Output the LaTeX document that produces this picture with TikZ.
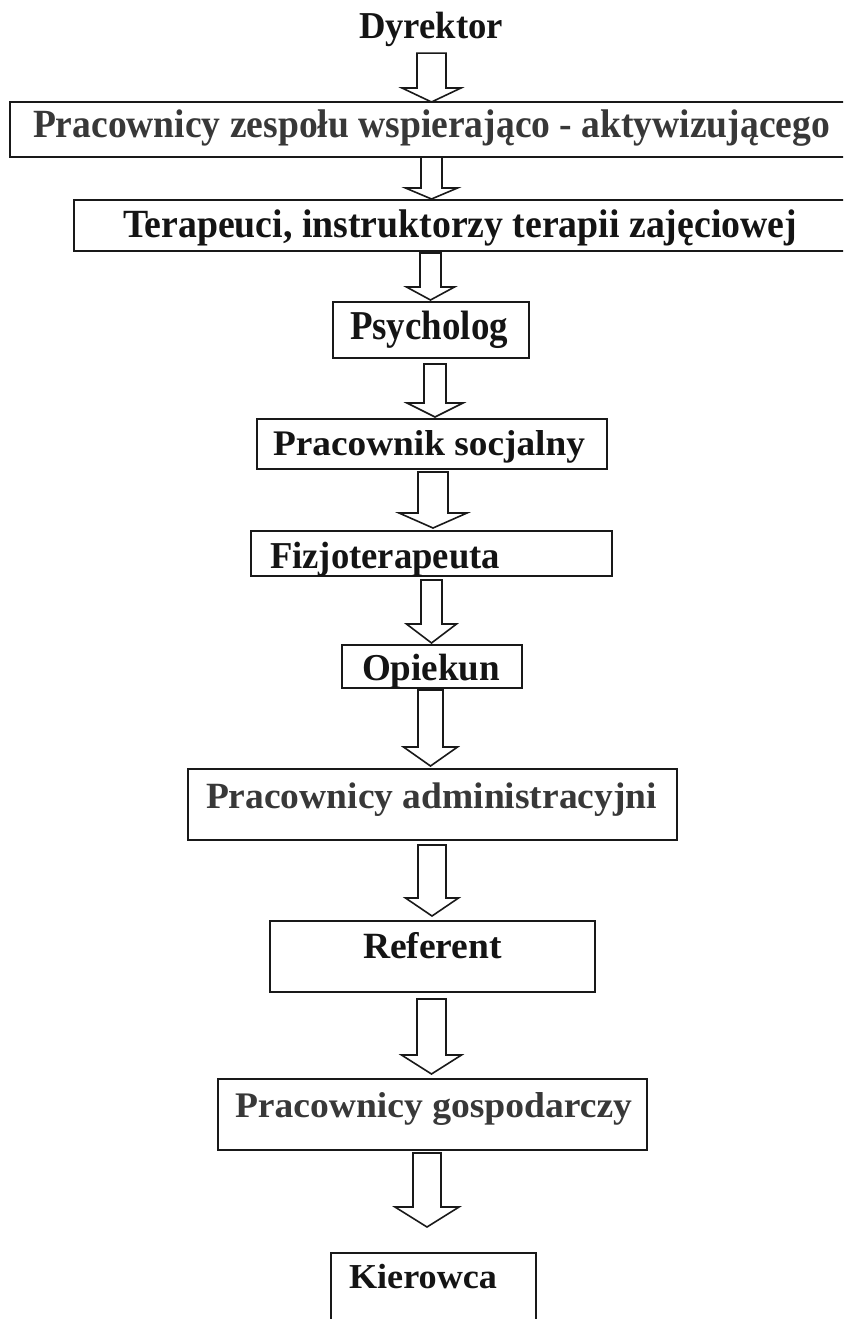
\documentclass[tikz,border=0pt]{standalone}
\usepackage{fontspec}
\setmainfont{Liberation Serif}
\usetikzlibrary{calc}
\newsavebox\fitbox
% #1 target width (px), #2 font size (px), #3 text
\newcommand{\fitto}[3]{%
  \sbox\fitbox{\fontsize{#2pt}{#2pt}\selectfont\bfseries #3}%
  \pgfmathsetmacro\fitsx{#1/\wd\fitbox}%
  \scalebox{\fitsx}[1]{\usebox\fitbox}}
% block arrow: #1 from node, #2 to node, #3 centre coordinate, #4 shaft half width,
% #5 head half width, #6 head length, #7 gap below source, #8 gap above target
\newcommand{\blockarr}[8]{%
  \draw[blockarrow]
    ($(#1.south -| #3)+(-#4,#7)$) -- ($(#2.north -| #3)+(-#4,-#8-#6)$)
    -- ($(#2.north -| #3)+(-#5,-#8-#6)$) -- ($(#2.north -| #3)+(0,-#8)$)
    -- ($(#2.north -| #3)+(#5,-#8-#6)$) -- ($(#2.north -| #3)+(#4,-#8-#6)$)
    -- ($(#1.south -| #3)+(#4,#7)$) -- cycle;}
\begin{document}
\begin{tikzpicture}[x=1pt,y=-1pt,
  box/.style={draw=black!90, line width=1.6pt, rectangle, inner sep=0pt, outer sep=0pt},
  lbl/.style={anchor=base west, inner sep=0pt, outer sep=0pt, text=black!92},
  glbl/.style={lbl, text=black!78},
  blockarrow/.style={draw=black!90, line width=1.6pt, fill=white, line join=miter}]
\useasboundingbox (0,0) rectangle (843,1319);
\fill[white] (0,0) rectangle (843,1319);
\clip (0,0) rectangle (843,1319);

% boxes (centre at midpoint of pixel bounds)
\node[box, minimum width=850pt, minimum height=55pt] (b1) at (435,129.5) {};
\node[box, minimum width=786pt, minimum height=51pt] (b2) at (467,225.5) {};
\node[box, minimum width=196pt, minimum height=56pt] (b3) at (431,330) {};
\node[box, minimum width=350pt, minimum height=50pt] (b4) at (432,444) {};
\node[box, minimum width=361pt, minimum height=45pt] (b5) at (431.5,553.5) {};
\node[box, minimum width=180pt, minimum height=43pt] (b6) at (432,666.5) {};
\node[box, minimum width=489pt, minimum height=71pt] (b7) at (432.5,804.5) {};
\node[box, minimum width=325pt, minimum height=71pt] (b8) at (432.5,956.5) {};
\node[box, minimum width=429pt, minimum height=71pt] (b9) at (432.5,1114.5) {};
\node[box, minimum width=205pt, minimum height=90pt] (b10) at (433.5,1298) {};

% texts
\node[lbl] (d) at (359,39) {\fitto{144}{38}{Dyrektor}};
\node[glbl] (t1) at (33,138) {\fitto{797}{40}{Pracownicy zespołu wspierająco - aktywizującego}};
\node[lbl] (t2) at (123,237) {\fitto{674}{40}{Terapeuci, instruktorzy terapii zajęciowej}};
\node[lbl] (t3) at (350,339) {\fitto{158}{41}{Psycholog}};
\node[lbl] (t4) at (273,455) {\fitto{312}{36}{Pracownik socjalny}};
\node[lbl] (t5) at (270,568) {\fitto{230}{38}{Fizjoterapeuta}};
\node[lbl] (t6) at (362,680) {\fitto{138}{38}{Opiekun}};
\node[glbl] (t7) at (206,808) {\fitto{451}{37}{Pracownicy administracyjni}};
\node[lbl] (t8) at (363,958) {\fitto{139}{37}{Referent}};
\node[glbl] (t9) at (235,1117) {\fitto{397}{36}{Pracownicy gospodarczy}};
\node[lbl] (t10) at (349,1288) {\fitto{148}{35}{Kierowca}};

% arrow centre lines
\coordinate (c1) at (431.5,0);
\coordinate (c2) at (431.5,0);
\coordinate (c3) at (430.5,0);
\coordinate (c4) at (435,0);
\coordinate (c5) at (433,0);
\coordinate (c6) at (431.5,0);
\coordinate (c7) at (430.5,0);
\coordinate (c8) at (432,0);
\coordinate (c9) at (431.5,0);
\coordinate (c10) at (427,0);

\blockarr{d}{b1}{c1}{14.5}{29.5}{14}{6}{0}
\blockarr{b1}{b2}{c2}{10.5}{26}{11}{0}{1}
\blockarr{b2}{b3}{c3}{10.5}{24}{13}{2}{2}
\blockarr{b3}{b4}{c4}{11}{28}{14}{6}{2}
\blockarr{b4}{b5}{c5}{15}{34}{15}{3}{3}
\blockarr{b5}{b6}{c6}{10.5}{25}{19}{4}{2}
\blockarr{b6}{b7}{c7}{12.5}{27}{19}{2}{3}
\blockarr{b7}{b8}{c8}{14}{26.5}{18}{5}{5}
\blockarr{b8}{b9}{c9}{14.5}{30}{19}{7}{5}
\blockarr{b9}{b10}{c10}{14}{32}{20}{3}{26}
\end{tikzpicture}
\end{document}
